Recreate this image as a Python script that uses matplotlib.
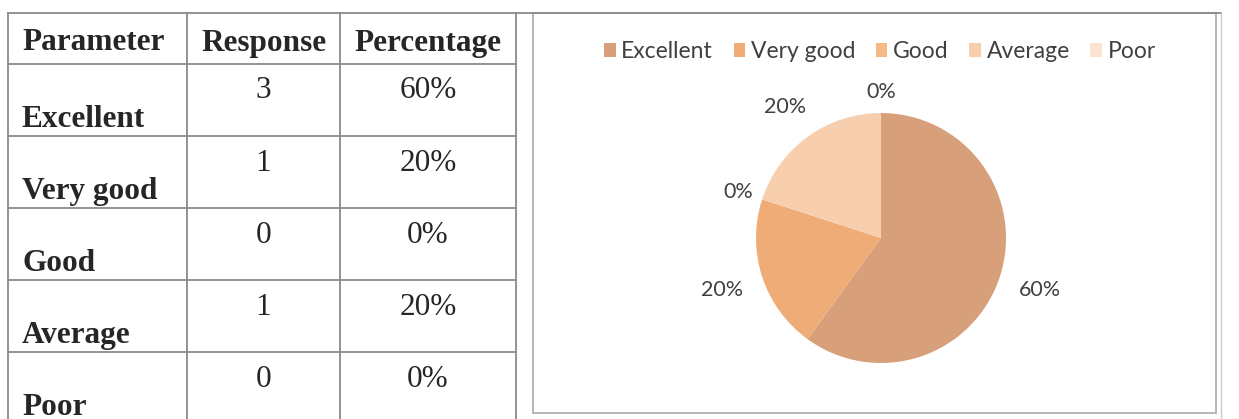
import numpy as np
import matplotlib.pyplot as plt
from matplotlib.patches import Rectangle

# data
params = ['Excellent', 'Very good', 'Good', 'Average', 'Poor']
responses = [3, 1, 0, 1, 0]
percent = [60, 20, 0, 20, 0]
headers = ['Parameter', 'Response', 'Percentage']
colors = ['#D8A07A', '#EFAC76', '#F3BA86', '#F7CFAE', '#FAE3D3']

W, H = 1239, 419
fig = plt.figure(figsize=(W / 100, H / 100), dpi=100)

# page axes in pixel coordinates
ax = fig.add_axes([0, 0, 1, 1])
ax.set_xlim(0, W)
ax.set_ylim(H, 0)
ax.axis('off')

line_c = '#8a8a8a'
col_x = [8, 187, 340, 516]
row_y = [13, 64, 136, 208, 280, 352, 419]

# table grid
for x in col_x:
    ax.plot([x, x], [row_y[0], row_y[-1]], color=line_c, lw=1.3)
for y in row_y[1:-1]:
    ax.plot([col_x[0], col_x[-1]], [y, y], color=line_c, lw=1.3)
ax.plot([col_x[0], 1221], [13, 13], color=line_c, lw=1.3)
ax.plot([1221, 1221], [13, H], color='#cccccc', lw=1)

serif = dict(family='Liberation Serif', fontweight='bold', fontsize=22.5, color='#262626')
plain = {**serif, 'fontweight': 'normal'}
ax.text(22, 43, headers[0], ha='left', va='center', **serif)
ax.text((col_x[1] + col_x[2]) / 2, 43, headers[1], ha='center', va='center', **serif)
ax.text((col_x[2] + col_x[3]) / 2, 43, headers[2], ha='center', va='center', **serif)

for i, (p, r, pc) in enumerate(zip(params, responses, percent)):
    top = row_y[i + 1]
    ax.text(22, top + 55, p, ha='left', va='center', **serif)
    ax.text((col_x[1] + col_x[2]) / 2, top + 27, str(r), ha='center', va='center', **plain)
    ax.text((col_x[2] + col_x[3]) / 2, top + 27, f'{pc}%', ha='center', va='center', **plain)

# chart frame
ax.add_patch(Rectangle((533, 13), 1216 - 533, 413 - 13, fill=False,
                       edgecolor='#b0b0b0', lw=1.3))

# pie
cx, cy, r = 881, 238, 125
pax = fig.add_axes([(cx - r) / W, 1 - (cy + r) / H, 2 * r / W, 2 * r / H])
wedges, texts = pax.pie(responses, colors=colors, startangle=90, counterclock=False,
                        labels=[f'{p}%' for p in percent], labeldistance=1.3,
                        textprops=dict(family='Lato', fontsize=15.5, color='#404040',
                                       ha='center', va='center'))
pax.set_xlim(-1, 1)
pax.set_ylim(-1, 1)
pax.set_aspect('equal')

# push the labels out by hand, like Excel's best fit
dist = [1.34, 1.34, 1.2, 1.3, 1.17]
for t, d in zip(texts, dist):
    x, y = t.get_position()
    s = d / np.hypot(x, y)
    t.set_position((x * s, y * s))
    t.set_ha('center')

leg = fig.legend(wedges, params, loc='center', bbox_to_anchor=(880 / W, 1 - 52 / H),
                 ncol=5, frameon=False, handlelength=0.5, handleheight=0.55,
                 handletextpad=0.25, columnspacing=0.9,
                 prop=dict(family='Lato', size=16.5))
for t in leg.get_texts():
    t.set_color('#404040')

fig.savefig('out.png', dpi=100)
